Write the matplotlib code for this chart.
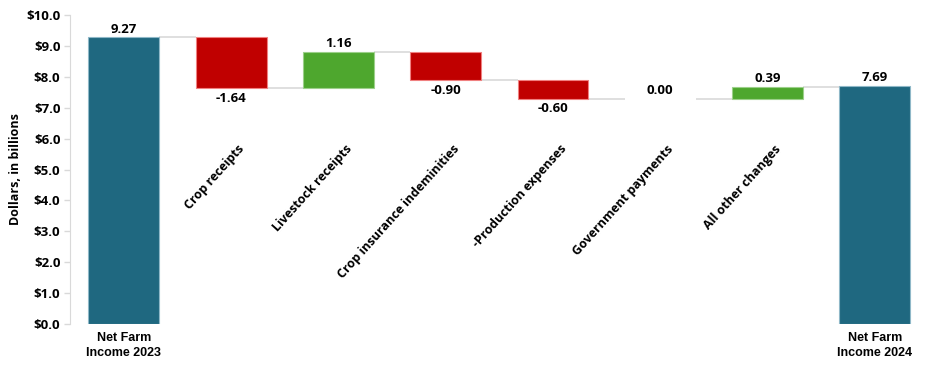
import matplotlib
matplotlib.use('Agg')
import matplotlib.pyplot as plt
import matplotlib.ticker

# - data
categories = ['Net Farm\nIncome 2023', 'Crop receipts', 'Livestock receipts', 'Crop insurance indeminities',
              '-Production expenses', 'Government payments', 'All other changes', 'Net Farm\nIncome 2024']
changes = [9.27, -1.64, 1.16, -0.90, -0.60, 0.00, 0.39, 7.69]
is_total = [True, False, False, False, False, False, False, True]
y_ticks = [0, 1, 2, 3, 4, 5, 6, 7, 8, 9, 10]

# - colours
c_total = '#1F6880'
c_neg = '#C00000'
c_pos = '#4EA72E'
c_line = '#D9D9D9'

plt.rcParams['font.family'] = ['Open Sans', 'DejaVu Sans']
plt.rcParams['font.weight'] = 'bold'

fig = plt.figure(figsize=(9.36, 3.73), dpi=100)
ax = fig.add_axes([0.075, 0.131, 0.917, 0.829])

width = 0.66
level = 0
levels = []  # running level after each bar
for i, v in enumerate(changes):
    if is_total[i]:
        bottom, top = 0, v
        color = c_total
        edge = '#8FB8C8'
        level = v
    else:
        start = level
        level = round(level + v, 2)
        bottom, top = min(start, level), max(start, level)
        color = c_pos if v > 0 else c_neg
        edge = '#9CD08A' if v > 0 else '#F08080'
    levels.append(level)
    if top - bottom > 0:
        ax.bar(i, top - bottom, bottom=bottom, width=width, color=color,
               edgecolor=edge, linewidth=0.8, zorder=3)
    # value label
    if v >= 0:
        ax.text(i, top + 0.06, f'{v:.2f}', ha='center', va='bottom', fontsize=9.5, fontweight='bold')
    else:
        ax.text(i, bottom - 0.12, f'{v:.2f}', ha='center', va='top', fontsize=9.5, fontweight='bold')

# - connector lines
for i in range(len(changes) - 1):
    ax.plot([i + width / 2, i + 1 - width / 2], [levels[i], levels[i]],
            color=c_line, linewidth=1.2, zorder=2, solid_capstyle='butt')

# - category labels
for i, name in enumerate(categories):
    if is_total[i]:
        ax.text(i, -0.25, name, ha='center', va='top', fontsize=9, fontweight='bold',
                family=['Liberation Sans', 'DejaVu Sans'], linespacing=1.3)
    else:
        ax.text(i + 0.06, 5.88, name, ha='right', va='top', rotation=48, rotation_mode='anchor',
                fontsize=9, fontweight='bold')

ax.set_xlim(-0.5, 7.5)
ax.set_ylim(0, 10)
ax.set_yticks(y_ticks)
ax.yaxis.set_major_formatter(matplotlib.ticker.FuncFormatter(lambda x, p: f'${x:.1f}'))
ax.tick_params(axis='y', labelsize=9.5, color='#D9D9D9', length=4, width=1, pad=3)
ax.set_xticks([])
for s in ['top', 'right', 'bottom']:
    ax.spines[s].set_visible(False)
ax.spines['left'].set_color('#D9D9D9')
ax.set_ylabel('Dollars, in billions', fontsize=9, fontweight='bold', labelpad=3)

fig.savefig('out.png', dpi=100)
